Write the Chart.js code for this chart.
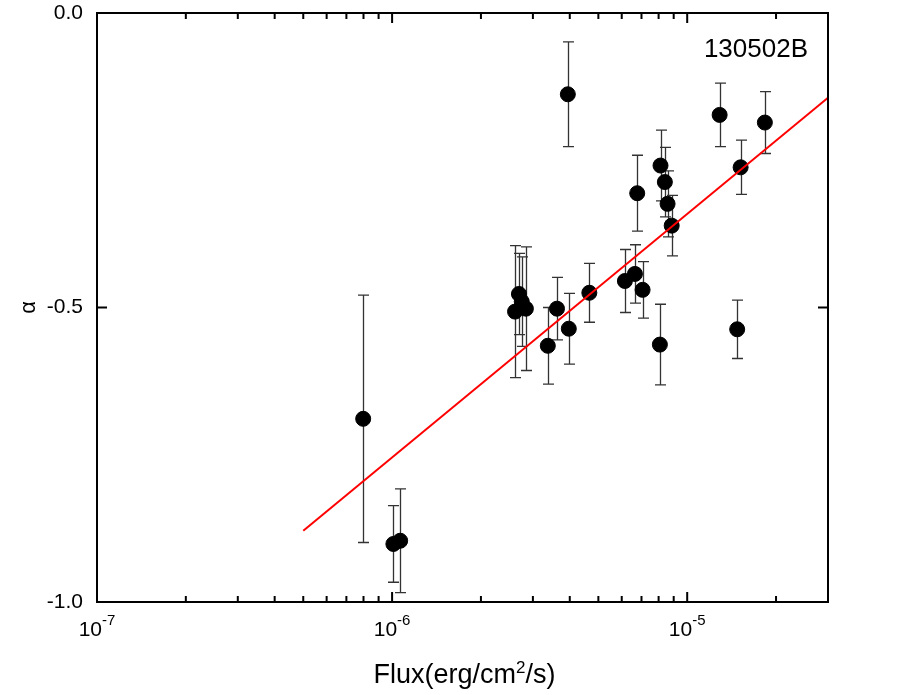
<!DOCTYPE html>
<html>
<head>
<meta charset="utf-8">
<script src="https://cdn.jsdelivr.net/npm/chart.js@4/dist/chart.umd.min.js"></script>
<style>
  html, body { margin: 0; padding: 0; background: #fff; }
  canvas { display: block; }
</style>
</head>
<body>
<canvas id="chart" width="917" height="695"></canvas>
<script>
const FONT = '"Liberation Sans", Arial, Helvetica, sans-serif';

// measured points (flux, alpha, symmetric error)
const fluxX = [7.98e-7, 1.01e-6, 1.065e-6, 2.61e-6, 2.69e-6, 2.75e-6, 2.84e-6, 3.37e-6, 3.62e-6,
  3.94e-6, 3.97e-6, 4.66e-6, 6.15e-6, 6.65e-6, 6.77e-6, 7.06e-6, 8.08e-6, 8.12e-6, 8.40e-6,
  8.58e-6, 8.86e-6, 1.288e-5, 1.477e-5, 1.517e-5, 1.833e-5];
const alphaY = [-0.689, -0.9015, -0.896, -0.507, -0.477, -0.490, -0.502, -0.565, -0.502,
  -0.138, -0.536, -0.475, -0.455, -0.443, -0.306, -0.470, -0.563, -0.259, -0.287,
  -0.324, -0.361, -0.173, -0.537, -0.262, -0.186];
const alphaErr = [0.21, 0.065, 0.088, 0.112, 0.069, 0.076, 0.105, 0.065, 0.053,
  0.089, 0.060, 0.050, 0.0535, 0.0495, 0.0645, 0.048, 0.0685, 0.060, 0.059,
  0.056, 0.0515, 0.054, 0.0496, 0.046, 0.0525];

// linear fit in log space, two ends
const fitX = [5e-7, 3e-5];
const fitY = [-0.879, -0.144];

const xMajorTicks = [1e-7, 1e-6, 1e-5];
const xMajorExp = ["-7", "-6", "-5"];
const xMinorTicks = [2e-7, 3e-7, 4e-7, 5e-7, 6e-7, 7e-7, 8e-7, 9e-7,
  2e-6, 3e-6, 4e-6, 5e-6, 6e-6, 7e-6, 8e-6, 9e-6, 2e-5];
const yMajorTicks = [0, -0.5, -1];

const grbName = "130502B";

// error bars under the points
const errorBars = {
  id: "errorBars",
  beforeDatasetsDraw(chart) {
    const { ctx, scales: { x, y } } = chart;
    ctx.save();
    ctx.strokeStyle = "#333";
    ctx.lineWidth = 1.3;
    fluxX.forEach((f, i) => {
      const px = Math.round(x.getPixelForValue(f)) + 0.5;
      const top = y.getPixelForValue(alphaY[i] + alphaErr[i]);
      const bot = y.getPixelForValue(alphaY[i] - alphaErr[i]);
      ctx.beginPath();
      ctx.moveTo(px, top); ctx.lineTo(px, bot);
      ctx.moveTo(px - 5.5, top); ctx.lineTo(px + 5.5, top);
      ctx.moveTo(px - 5.5, bot); ctx.lineTo(px + 5.5, bot);
      ctx.stroke();
    });
    ctx.restore();
  }
};

// frame, inward ticks, labels with superscripts
const frame = {
  id: "frame",
  afterDraw(chart) {
    const { ctx, chartArea: a, scales: { x, y } } = chart;
    ctx.save();
    ctx.strokeStyle = "#000";
    ctx.lineWidth = 2;
    ctx.strokeRect(a.left, a.top, a.right - a.left, a.bottom - a.top);

    ctx.beginPath();
    xMajorTicks.forEach(v => {
      const px = x.getPixelForValue(v);
      ctx.moveTo(px, a.bottom); ctx.lineTo(px, a.bottom - 10);
      ctx.moveTo(px, a.top); ctx.lineTo(px, a.top + 10);
    });
    xMinorTicks.forEach(v => {
      const px = x.getPixelForValue(v);
      ctx.moveTo(px, a.bottom); ctx.lineTo(px, a.bottom - 6);
      ctx.moveTo(px, a.top); ctx.lineTo(px, a.top + 6);
    });
    yMajorTicks.forEach(v => {
      const py = y.getPixelForValue(v);
      ctx.moveTo(a.left, py); ctx.lineTo(a.left + 10, py);
      ctx.moveTo(a.right, py); ctx.lineTo(a.right - 10, py);
    });
    ctx.stroke();

    // x tick labels: 10^n
    ctx.fillStyle = "#000";
    ctx.textBaseline = "alphabetic";
    xMajorTicks.forEach((v, i) => {
      const px = x.getPixelForValue(v);
      ctx.font = "21px " + FONT;
      const wb = ctx.measureText("10").width;
      ctx.font = "15px " + FONT;
      const ws = ctx.measureText(xMajorExp[i]).width;
      const x0 = px - (wb + ws) / 2;
      ctx.font = "21px " + FONT;
      ctx.textAlign = "left";
      ctx.fillText("10", x0, a.bottom + 34);
      ctx.font = "15px " + FONT;
      ctx.fillText(xMajorExp[i], x0 + wb, a.bottom + 23);
    });

    // x title
    const parts = [["Flux(erg/cm", 27, 0], ["2", 17, -10], ["/s)", 27, 0]];
    let total = 0;
    parts.forEach(p => { ctx.font = p[1] + "px " + FONT; total += ctx.measureText(p[0]).width; });
    let cx = (a.left + a.right) / 2 - total / 2 + 2;
    parts.forEach(p => {
      ctx.font = p[1] + "px " + FONT;
      ctx.fillText(p[0], cx, 683 + p[2]);
      cx += ctx.measureText(p[0]).width;
    });

    // y title
    ctx.save();
    ctx.translate(29, (a.top + a.bottom) / 2);
    ctx.rotate(-Math.PI / 2);
    ctx.font = "22px " + FONT;
    ctx.textAlign = "center";
    ctx.textBaseline = "middle";
    ctx.fillText("α", 0, 0);
    ctx.restore();

    // GRB name
    ctx.font = "26px " + FONT;
    ctx.textAlign = "right";
    ctx.textBaseline = "alphabetic";
    ctx.fillText(grbName, 808, 57);
    ctx.restore();
  }
};

new Chart(document.getElementById("chart"), {
  data: {
    datasets: [
      {
        type: "line",
        data: fitX.map((v, i) => ({ x: v, y: fitY[i] })),
        borderColor: "#ff0000",
        borderWidth: 2,
        pointRadius: 0,
        fill: false,
        order: 0,
      },
      {
        type: "scatter",
        data: fluxX.map((v, i) => ({ x: v, y: alphaY[i] })),
        backgroundColor: "#000",
        borderColor: "#000",
        pointRadius: 7.5,
        order: 1,
      },
    ],
  },
  options: {
    responsive: false,
    animation: false,
    layout: { padding: { top: 13, right: 89, left: 0, bottom: 0 } },
    plugins: { legend: { display: false }, tooltip: { enabled: false } },
    scales: {
      x: {
        type: "logarithmic",
        min: 1e-7,
        max: 3e-5,
        grid: { display: false, drawTicks: false },
        border: { display: false },
        ticks: { display: false },
        afterBuildTicks: (s) => { s.ticks = xMajorTicks.map(v => ({ value: v })); },
        afterFit: (s) => { s.height = 93; s.paddingLeft = 0; s.paddingRight = 0; },
      },
      y: {
        min: -1,
        max: 0,
        grid: { display: false, drawTicks: false },
        border: { display: false },
        afterBuildTicks: (s) => { s.ticks = yMajorTicks.map(v => ({ value: v })); },
        ticks: {
          padding: 14,
          color: "#000",
          font: { size: 21, family: FONT },
          callback: (v) => Number(v).toFixed(1),
        },
        afterFit: (s) => { s.width = 97; s.paddingTop = 0; s.paddingBottom = 0; },
      },
    },
  },
  plugins: [errorBars, frame],
});
</script>
</body>
</html>
